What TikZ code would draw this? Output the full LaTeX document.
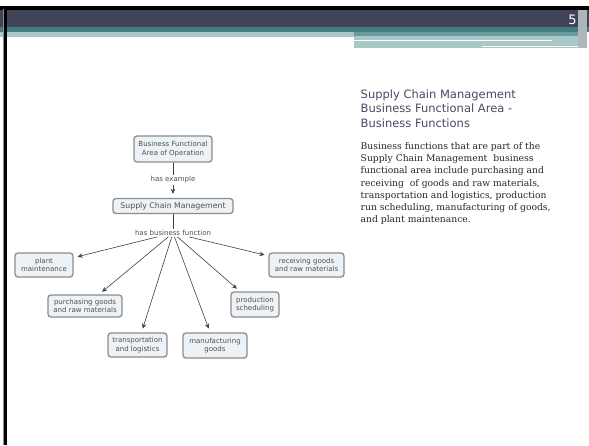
\documentclass[tikz,border=0pt]{standalone}
\usepackage{fontspec}
\setmainfont{DejaVu Serif}
\setsansfont{DejaVu Sans}
\newfontfamily\verd{DejaVu Sans}
\usetikzlibrary{arrows.meta,patterns}
\definecolor{darkbar}{RGB}{65,67,88}
\definecolor{tealbar}{RGB}{66,125,128}
\definecolor{lightteal}{RGB}{168,200,200}
\definecolor{boxfill}{RGB}{236,242,246}
\definecolor{boxline}{RGB}{140,140,140}
\definecolor{boxtext}{RGB}{80,80,80}
\definecolor{titletext}{RGB}{72,74,98}
\definecolor{striptex}{RGB}{175,182,186}
\begin{document}
\begin{tikzpicture}[x=1pt,y=-1pt,
  cbox/.style={draw=boxline, line width=1.3pt, rounded corners=3pt, fill=boxfill,
    align=center, font=\verd\fontsize{7}{8.2}\selectfont, text=boxtext, inner sep=2pt},
  linklabel/.style={fill=white, font=\verd\fontsize{7}{8.2}\selectfont, text=boxtext, inner sep=1pt},
  conn/.style={draw=black!75, line width=0.6pt},
  arr/.style={conn, -{Stealth[length=5pt,width=4.5pt]}, shorten >=4pt}
]
\useasboundingbox (0,0) rectangle (589,445);
\fill[white] (0,0) rectangle (589,445);
% header
\fill[black] (0,6) rectangle (589,9.5);
\fill[darkbar] (0,9.5) rectangle (589,27);
\fill[tealbar] (0,27) rectangle (589,32);
\fill[lightteal] (0,32) rectangle (354,37);
\fill[lightteal] (354,32) rectangle (586,47.5);
\fill[tealbar!60!lightteal] (354,32) rectangle (586,36);
\draw[white, line width=1pt] (354,40) -- (552,40);
\draw[white, line width=1pt] (482,46.5) -- (585,46.5);
\fill[striptex] (578,9.5) rectangle (587,48);
\node[text=white, font=\verd\fontsize{13}{13}\selectfont, inner sep=0pt] (pagenum) at (572.5,20) {5};
% left border
\fill[black!45] (2.5,9) rectangle (4,445);
\fill[black] (4,9) rectangle (6.5,445);

% concept map
\node[cbox, minimum width=78pt, minimum height=26pt] (bfa) at (173,149) {Business Functional\\Area of Operation};
\node[linklabel] (hasex) at (173,180) {has example};
\node[cbox, font=\verd\fontsize{7.8}{9}\selectfont, minimum width=120pt, minimum height=15pt] (scm) at (173,206) {Supply Chain Management};
\node[linklabel] (hbf) at (173,233) {has business function};

\node[cbox, minimum width=58pt, minimum height=24pt] (plant) at (44,265) {plant\\maintenance};
\node[cbox, minimum width=74pt, minimum height=22pt] (purch) at (85,306) {purchasing goods\\and raw materials};
\node[cbox, minimum width=59pt, minimum height=24pt] (transp) at (137.5,345) {transportation\\and logistics};
\node[cbox, minimum width=64pt, minimum height=25pt] (manuf) at (215,345.5) {manufacturing\\goods};
\node[cbox, minimum width=48pt, minimum height=25pt] (prod) at (255,304.5) {production\\scheduling};
\node[cbox, minimum width=75pt, minimum height=24pt] (recv) at (306.5,265) {receiving goods\\and raw materials};

\draw[conn] (bfa) -- (hasex);
\draw[arr] (hasex) -- (scm);
\draw[conn] (scm) -- (hbf);
\foreach \t in {plant,purch,transp,manuf,prod,recv}
  \draw[arr] (hbf) -- (\t);

% right text (base anchor = baseline of the last line)
\node[anchor=base west, align=left, inner sep=0pt, text=titletext,
  font=\verd\fontsize{11.5}{14.8}\selectfont] (title) at (360.5,127.6)
  {Supply Chain Management\\Business Functional Area -\\Business Functions};
\node[anchor=base west, align=left, inner sep=0pt, text=black!85,
  font=\fontsize{9.2}{12.2}\selectfont] (body) at (360.5,222.7)
  {Business functions that are part of the\\
   Supply Chain Management\ \ business\\
   functional area include purchasing and\\
   receiving\ \ of goods and raw materials,\\
   transportation and logistics, production\\
   run scheduling, manufacturing of goods,\\
   and plant maintenance.};
\end{tikzpicture}
\end{document}
